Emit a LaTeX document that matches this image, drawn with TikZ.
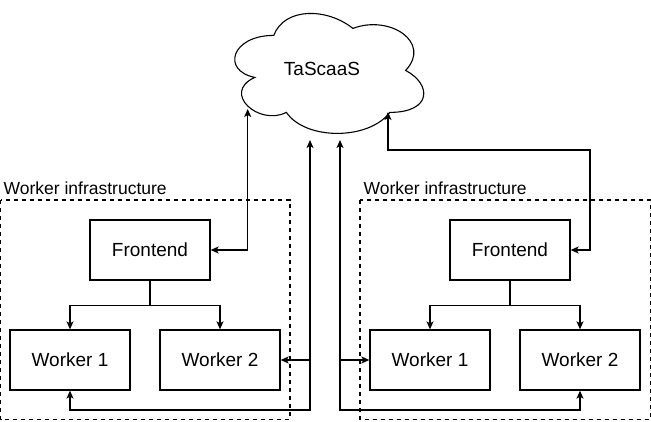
\documentclass[tikz,border=0pt]{standalone}
\usepackage{fontspec}
\setmainfont{Liberation Sans}
\usetikzlibrary{arrows.meta}
\begin{document}
\begin{tikzpicture}[x=1pt,y=-1pt,
  line width=1.3pt,
  tip/.style={-{Stealth[length=8pt,width=7pt,inset=2pt]}},
  biarrow/.style={{Stealth[length=8pt,width=7pt,inset=2pt]}-{Stealth[length=8pt,width=7pt,inset=2pt]}},
  box/.style={draw, rectangle, minimum width=120pt, minimum height=60pt, inner sep=0pt, font=\fontsize{19}{22}\selectfont},
  infralabel/.style={anchor=base west, inner sep=0pt, font=\fontsize{17.5}{20}\selectfont}]
\useasboundingbox (0,0) rectangle (651,421);

% cloud
\draw[shift={(221,0.4)}, x=211pt, y=-140pt, line width=1.1pt]
  (0.25,0.25) .. controls (0.05,0.25) and (0,0.5) .. (0.16,0.55)
  .. controls (0,0.66) and (0.18,0.9) .. (0.31,0.8)
  .. controls (0.4,1) and (0.7,1) .. (0.8,0.8)
  .. controls (1,0.8) and (1,0.6) .. (0.875,0.5)
  .. controls (1,0.3) and (0.8,0.1) .. (0.625,0.2)
  .. controls (0.5,0.05) and (0.3,0.05) .. (0.25,0.25) -- cycle;
\node[inner sep=0pt, font=\fontsize{19}{22}\selectfont] (cloud) at (322,69) {TaScaaS};
\coordinate (cl) at (247.7,109);
\coordinate (cr) at (388,112);
\coordinate (ml) at (310,140);
\coordinate (mr) at (340,140);
\coordinate (bl) at (310,410);
\coordinate (br) at (340,410);
\coordinate (rturn) at (590,150);

% infrastructure boxes
\draw[dash pattern=on 4pt off 4pt, line width=1.1pt] (0.8,200) rectangle (290,419.5);
\draw[dash pattern=on 4pt off 4pt, line width=1.1pt] (360,200) rectangle (650.2,419.5);
\node[infralabel] (labl) at (3,194) {Worker infrastructure};
\node[infralabel] (labr) at (363,194) {Worker infrastructure};

% left
\node[box] (fl) at (150,250) {Frontend};
\node[box] (w1l) at (70,360) {Worker 1};
\node[box] (w2l) at (220,360) {Worker 2};
% right
\node[box] (fr) at (510,250) {Frontend};
\node[box] (w1r) at (430,360) {Worker 1};
\node[box] (w2r) at (580,360) {Worker 2};

% frontend to workers
\draw[tip] (fl.south) -- ++(0,25) -| (w1l.north);
\draw[tip] (fl.south) -- ++(0,25) -| (w2l.north);
\draw[tip] (fr.south) -- ++(0,25) -| (w1r.north);
\draw[tip] (fr.south) -- ++(0,25) -| (w2r.north);

% cloud links
\draw[biarrow] (fl.east) -| (cl);
\draw[biarrow] (fr.east) -| (rturn) -| (cr);
\draw[biarrow] (ml) -- (bl) -| (w1l.south);
\draw[tip] (ml |- w2l.east) -- (w2l.east);
\draw[biarrow] (mr) -- (br) -| (w2r.south);
\draw[tip] (mr |- w1r.west) -- (w1r.west);
\end{tikzpicture}
\end{document}
